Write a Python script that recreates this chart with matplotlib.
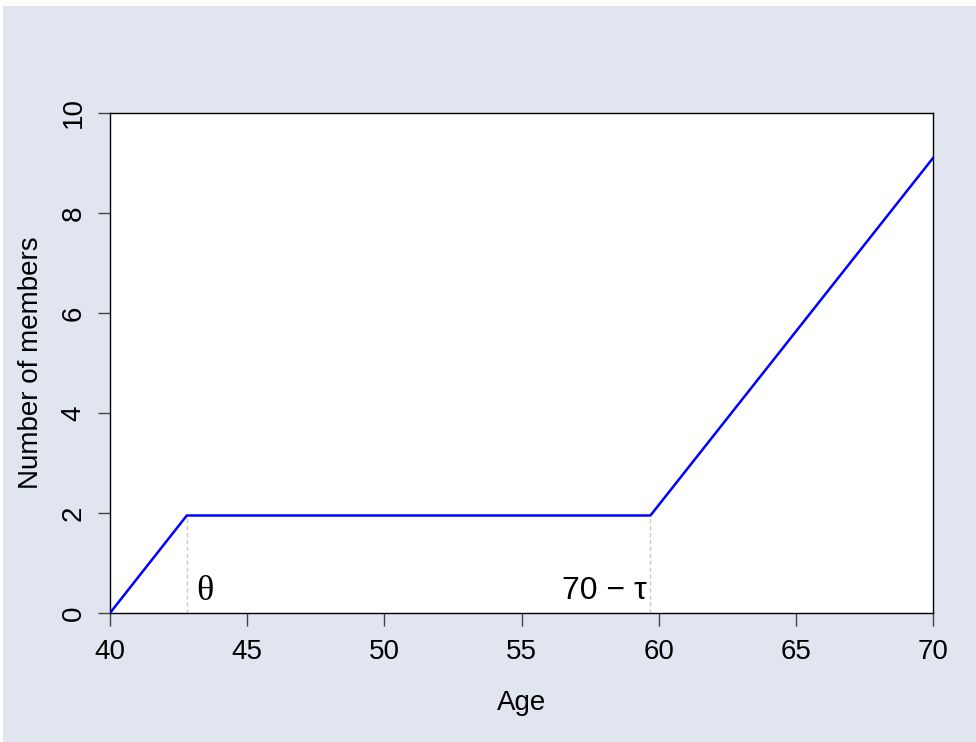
import matplotlib
matplotlib.use("Agg")
import matplotlib.pyplot as plt
from matplotlib.patches import Rectangle

plt.rcParams['font.family'] = ['Liberation Sans', 'DejaVu Sans']

# Data
age = [40, 42.8, 59.7, 70]
members = [0, 1.95, 1.95, 9.1]
xticks = [40, 45, 50, 55, 60, 65, 70]
yticks = [0, 2, 4, 6, 8, 10]
theta_x = 42.8
tau_x = 59.7
plateau = 1.95

fig = plt.figure(figsize=(9.76, 7.42), dpi=100, facecolor='white')
fig.patches.append(Rectangle((3/976, 0), 1, 1 - 6/742, transform=fig.transFigure,
                             facecolor='#e1e5f0', edgecolor='none', zorder=-10))
ax = fig.add_axes([110/976, 1 - 613/742, (933 - 110)/976, (613 - 113)/742])
ax.set_zorder(5)
ax.set_facecolor('white')

ax.plot(age, members, color='#0000ff', lw=1.8, zorder=3)
ax.plot([theta_x, theta_x], [0, plateau], color='#c8c8c8', lw=1.0, ls=(0, (3, 2)), zorder=2)
ax.plot([tau_x, tau_x], [0, plateau], color='#c8c8c8', lw=1.0, ls=(0, (3, 2)), zorder=2)

ax.text(43.15, 0.44, 'θ', family=['Liberation Serif', 'DejaVu Serif'], fontsize=26,
        ha='left', va='center')
ax.text(59.55, 0.44, '70 − τ', fontsize=23, ha='right', va='center')

ax.set_xlim(40, 70)
ax.set_ylim(0, 10)
ax.set_xticks(xticks)
ax.set_yticks(yticks)
ax.tick_params(axis='both', labelsize=20, length=9, width=1, color='#444444', pad=8)
ax.tick_params(axis='x', pad=9.5)
ax.tick_params(axis='y', labelrotation=90)
for lab in ax.get_yticklabels():
    lab.set_va('center')
for s in ax.spines.values():
    s.set_linewidth(1.0)
    s.set_color('black')

ax.set_xlabel('Age', fontsize=20, labelpad=18)
ax.set_ylabel('Number of members', fontsize=20, labelpad=12)

fig.savefig('out.png', dpi=100, facecolor='white')
